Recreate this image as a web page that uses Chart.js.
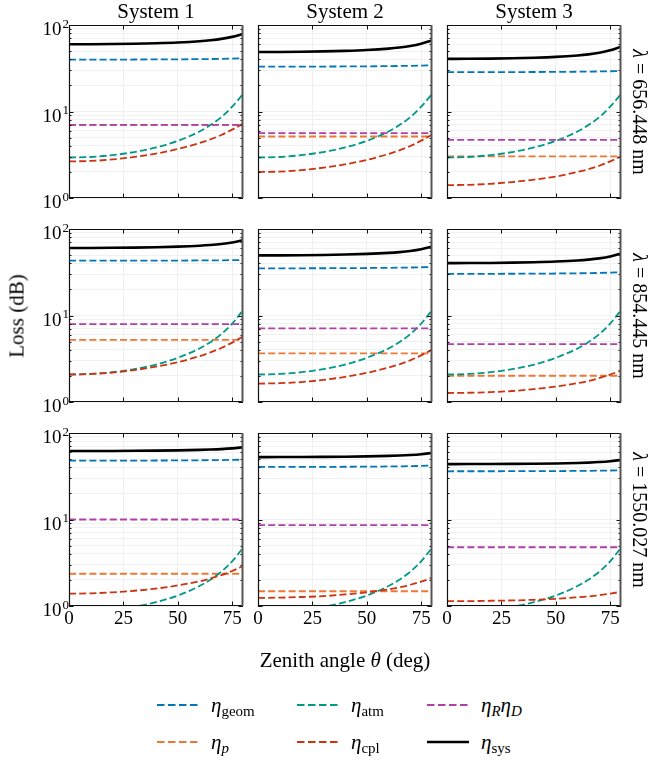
<!DOCTYPE html>
<html><head><meta charset="utf-8">
<script src="https://cdn.jsdelivr.net/npm/chart.js@4.4.0/dist/chart.umd.min.js"></script>
<style>
html,body{margin:0;padding:0;background:#fff;}
#page{position:relative;width:653px;height:762px;overflow:hidden;font-family:"Liberation Serif","Times New Roman",serif;color:#000;}
#page canvas{position:absolute;}
.t{position:absolute;white-space:nowrap;line-height:1;}
.leg{position:absolute;font-size:21px;white-space:nowrap;line-height:1;}
.leg sub{font-size:15px;vertical-align:-4px;}
</style></head><body><div id="page"></div>
<script>
// ---------------- data ----------------
const zenith = [0, 10, 20, 30, 40, 50, 60, 65, 70, 75, 80];
const systemNames = ['System 1', 'System 2', 'System 3'];
const wavelengths = ['656.448', '854.445', '1550.027'];
const yTickValues = [1,2,3,4,5,6,7,8,9,10,20,30,40,50,60,70,80,90,100];
const yLabelValues = [1, 10, 100];
const yLabelSup = ['0', '1', '2'];
const xTickValues = [0, 25, 50, 75];

// lambda = 656.448 nm  (index = system)
const atm_656  = [2.94, 2.98, 3.13, 3.40, 3.84, 4.57, 5.88, 6.96, 8.60, 11.36, 15.9];
const geom_656 = [
  [39.8, 39.81, 39.84, 39.90, 39.99, 40.11, 40.31, 40.44, 40.62, 40.87, 41.2],
  [33.0, 33.01, 33.04, 33.09, 33.17, 33.29, 33.47, 33.60, 33.76, 34.0, 34.3],
  [28.5, 28.51, 28.53, 28.56, 28.62, 28.70, 28.83, 28.91, 29.03, 29.19, 29.4]];
const cpl_656 = [
  [2.65, 2.68, 2.79, 2.98, 3.26, 3.68, 4.32, 4.76, 5.35, 6.17, 7.25],
  [2.0, 2.02, 2.10, 2.24, 2.45, 2.76, 3.23, 3.56, 3.99, 4.60, 5.4],
  [1.41, 1.42, 1.46, 1.53, 1.63, 1.77, 2.00, 2.15, 2.36, 2.65, 3.03]];
const sys_656 = [
  [59.9, 59.97, 60.26, 60.78, 61.59, 62.86, 65.01, 66.66, 69.07, 72.9, 78.85],
  [48.7, 48.77, 49.03, 49.49, 50.22, 51.38, 53.34, 54.88, 57.11, 60.72, 66.36],
  [40.59, 40.65, 40.86, 41.23, 41.83, 42.78, 44.45, 45.76, 47.73, 50.94, 56.07]];
const p_656  = [7.0, 5.14, 3.03];
const rd_656 = [7.0, 5.62, 4.71];

// lambda = 854.445 nm
const atm_854  = [2.08, 2.11, 2.21, 2.40, 2.71, 3.24, 4.16, 4.92, 6.08, 8.04, 11.5];
const geom_854 = [
  [43.0, 43.01, 43.02, 43.06, 43.11, 43.18, 43.29, 43.37, 43.47, 43.61, 43.8],
  [35.1, 35.11, 35.14, 35.19, 35.27, 35.39, 35.57, 35.70, 35.86, 36.10, 36.4],
  [30.3, 30.31, 30.34, 30.39, 30.47, 30.59, 30.77, 30.90, 31.06, 31.30, 31.6]];
const cpl_854 = [
  [2.08, 2.11, 2.19, 2.34, 2.56, 2.89, 3.39, 3.75, 4.21, 4.86, 5.71],
  [1.63, 1.65, 1.70, 1.80, 1.95, 2.17, 2.50, 2.73, 3.03, 3.46, 4.02],
  [1.27, 1.28, 1.30, 1.34, 1.41, 1.51, 1.65, 1.75, 1.89, 2.07, 2.32]];
const sys_854 = [
  [60.34, 60.41, 60.60, 60.98, 61.56, 62.49, 64.02, 65.22, 66.94, 69.69, 74.19],
  [49.53, 49.59, 49.77, 50.11, 50.65, 51.52, 52.95, 54.07, 55.69, 58.32, 62.64],
  [40.33, 40.38, 40.53, 40.81, 41.27, 42.02, 43.26, 44.25, 45.71, 48.09, 52.10]];
const p_854  = [5.24, 3.64, 2.01];
const rd_854 = [7.94, 7.08, 4.67];

// lambda = 1550.027 nm
const atm_1550  = [0.85, 0.86, 0.90, 0.98, 1.11, 1.32, 1.70, 2.01, 2.49, 3.28, 4.7];
const geom_1550 = [
  [47.9, 47.91, 47.94, 47.99, 48.07, 48.19, 48.37, 48.50, 48.66, 48.90, 49.2],
  [40.5, 40.51, 40.55, 40.61, 40.70, 40.84, 41.04, 41.19, 41.38, 41.65, 42.0],
  [36.1, 36.11, 36.13, 36.17, 36.23, 36.32, 36.46, 36.56, 36.69, 36.87, 37.1]];
const cpl_1550 = [
  [1.39, 1.40, 1.44, 1.50, 1.59, 1.73, 1.93, 2.08, 2.27, 2.54, 2.89],
  [1.24, 1.25, 1.27, 1.30, 1.36, 1.44, 1.56, 1.64, 1.76, 1.91, 2.12],
  [1.14, 1.14, 1.15, 1.16, 1.18, 1.21, 1.26, 1.29, 1.33, 1.39, 1.46]];
const sys_1550 = [
  [61.9, 61.93, 62.04, 62.23, 62.53, 63.0, 63.76, 64.35, 65.18, 66.48, 68.55],
  [52.66, 52.69, 52.79, 52.96, 53.24, 53.67, 54.37, 54.91, 55.70, 56.91, 58.89],
  [43.72, 43.74, 43.81, 43.94, 44.15, 44.48, 45.05, 45.49, 46.14, 47.17, 48.89]];
const p_1550  = [2.36, 1.48, 0.85];
const rd_1550 = [10.0, 8.59, 4.78];

// ---------------- styling / layout ----------------
const C = {geom:'#0077BB', p:'#EE7733', atm:'#009988', cpl:'#CC3311', rd:'#B040A8', sys:'#000000'};
const DASH = [7, 3.2];
const colLeft = [69, 258, 447], rowTop = [25, 229, 433];
const PW = 174, PH = 173;
const PAD = {left:50, top:12, right:12, bottom:30};
const FONT = '"Liberation Serif","Times New Roman",serif';

const rows = [
  {atm:atm_656, geom:geom_656, cpl:cpl_656, sys:sys_656, p:p_656, rd:rd_656},
  {atm:atm_854, geom:geom_854, cpl:cpl_854, sys:sys_854, p:p_854, rd:rd_854},
  {atm:atm_1550, geom:geom_1550, cpl:cpl_1550, sys:sys_1550, p:p_1550, rd:rd_1550}];

const page = document.getElementById('page');

const framePlugin = {
  id: 'frame',
  afterDraw(chart, args, opts) {
    const {ctx, chartArea: a, scales: {x, y}} = chart;
    ctx.save();
    ctx.strokeStyle = '#111';
    ctx.lineWidth = 1;
    ctx.beginPath();
    for (const v of yTickValues) {
      const py = Math.round(y.getPixelForValue(v)) + 0.5;
      const major = yLabelValues.includes(v);
      const len = major ? 4.5 : 2.5;
      ctx.moveTo(a.left, py); ctx.lineTo(a.left + len, py);
      ctx.moveTo(a.right, py); ctx.lineTo(a.right - len, py);
    }
    for (const v of xTickValues) {
      const px = Math.round(x.getPixelForValue(v)) + 0.5;
      ctx.moveTo(px, a.bottom); ctx.lineTo(px, a.bottom - 4.5);
      ctx.moveTo(px, a.top); ctx.lineTo(px, a.top + 4.5);
    }
    ctx.stroke();
    // spines
    ctx.lineWidth = 1.2;
    ctx.strokeStyle = '#111';
    ctx.beginPath();
    ctx.moveTo(a.right, a.top + 0.5); ctx.lineTo(a.left + 0.5, a.top + 0.5);
    ctx.lineTo(a.left + 0.5, a.bottom - 0.5); ctx.lineTo(a.right, a.bottom - 0.5);
    ctx.stroke();
    ctx.lineWidth = 2;
    ctx.strokeStyle = '#555';
    ctx.beginPath();
    ctx.moveTo(a.right - 0.5, a.top); ctx.lineTo(a.right - 0.5, a.bottom);
    ctx.stroke();
    ctx.fillStyle = '#000';
    if (opts.showY) {
      yLabelValues.forEach((v, i) => {
        const py = y.getPixelForValue(v);
        ctx.font = '19px ' + FONT;
        ctx.textAlign = 'right';
        ctx.textBaseline = 'alphabetic';
        ctx.fillText('10', a.left - 7.5, py + 10);
        ctx.font = '13px ' + FONT;
        ctx.textAlign = 'left';
        ctx.fillText(yLabelSup[i], a.left - 6.5, py + 2.5);
      });
    }
    if (opts.showX) {
      ctx.font = '19px ' + FONT;
      ctx.textAlign = 'center';
      ctx.textBaseline = 'alphabetic';
      for (const v of xTickValues) {
        ctx.fillText(String(v), x.getPixelForValue(v), a.bottom + 17.5);
      }
    }
    ctx.restore();
  }
};

function pts(arr) { return zenith.map((z, i) => ({x: z, y: arr[i]})); }
function flat(v) { return zenith.map(z => ({x: z, y: v})); }

for (let r = 0; r < 3; r++) {
  for (let s = 0; s < 3; s++) {
    const d = rows[r];
    const cv = document.createElement('canvas');
    const W = PW + PAD.left + PAD.right, H = PH + PAD.top + PAD.bottom;
    cv.width = W; cv.height = H;
    cv.style.width = W + 'px'; cv.style.height = H + 'px';
    cv.style.left = (colLeft[s] - PAD.left) + 'px';
    cv.style.top = (rowTop[r] - PAD.top) + 'px';
    page.appendChild(cv);
    const base = {fill:false, pointRadius:0, cubicInterpolationMode:'monotone', borderWidth:1.8, borderDash:DASH};
    new Chart(cv.getContext('2d'), {
      type: 'line',
      data: {datasets: [
        {...base, label:'sys', data: pts(d.sys[s]), borderColor:C.sys, borderWidth:2.6, borderDash:[]},
        {...base, label:'RD', data: flat(d.rd[s]), borderColor:C.rd},
        {...base, label:'geom', data: pts(d.geom[s]), borderColor:C.geom},
        {...base, label:'cpl', data: pts(d.cpl[s]), borderColor:C.cpl},
        {...base, label:'atm', data: pts(d.atm), borderColor:C.atm},
        {...base, label:'p', data: flat(d.p[s]), borderColor:C.p}
      ]},
      options: {
        responsive:false, animation:false, devicePixelRatio:1,
        layout: {padding: PAD},
        plugins: {legend:{display:false}, tooltip:{enabled:false}, frame:{showY: s === 0, showX: r === 2}},
        scales: {
          x: {type:'linear', min:0, max:80,
              afterBuildTicks: sc => { sc.ticks = xTickValues.map(v => ({value:v})); },
              ticks:{display:false}, border:{display:false},
              grid:{color:'#efefef', lineWidth:1, drawTicks:false}},
          y: {type:'logarithmic', min:1, max:100,
              afterBuildTicks: sc => { sc.ticks = yTickValues.map(v => ({value:v})); },
              ticks:{display:false}, border:{display:false},
              grid:{color:'#f1f1f1', lineWidth:1, drawTicks:false}}
        }
      },
      plugins: [framePlugin]
    });
  }
}

// ---------------- text ----------------
function addText(html, x, y, size, extra) {
  const el = document.createElement('div');
  el.className = 't';
  el.innerHTML = html;
  el.style.fontSize = size + 'px';
  el.style.left = x + 'px';
  el.style.top = y + 'px';
  if (extra) Object.assign(el.style, extra);
  page.appendChild(el);
  return el;
}
systemNames.forEach((n, i) => {
  addText(n, colLeft[i] + PW / 2, 1, 21, {transform:'translateX(-50%)'});
});
wavelengths.forEach((w, i) => {
  addText('<i>λ</i> = ' + w + ' nm', 640, rowTop[i] + PH / 2, 20,
    {transform:'translate(-50%,-50%) rotate(90deg)'});
});
addText('Loss (dB)', 17, 316, 21, {transform:'translate(-50%,-50%) rotate(-90deg)'});
addText('Zenith angle <i>θ</i> (deg)', 345, 650, 21, {transform:'translateX(-50%)'});

// legend
const legendItems = [
  {html:'<i>η</i><sub>geom</sub>', color:C.geom, dash:true, x:157, y:705},
  {html:'<i>η</i><sub><i>p</i></sub>', color:C.p, dash:true, x:157, y:742},
  {html:'<i>η</i><sub>atm</sub>', color:C.atm, dash:true, x:297, y:705},
  {html:'<i>η</i><sub>cpl</sub>', color:C.cpl, dash:true, x:297, y:742},
  {html:'<i>η<sub>R</sub>η<sub>D</sub></i>', color:C.rd, dash:true, x:427, y:705},
  {html:'<i>η</i><sub>sys</sub>', color:C.sys, dash:false, x:427, y:742}];
legendItems.forEach(it => {
  const svgNS = 'http://www.w3.org/2000/svg';
  const svg = document.createElementNS(svgNS, 'svg');
  svg.setAttribute('width', '44'); svg.setAttribute('height', '6');
  svg.style.position = 'absolute';
  svg.style.left = it.x + 'px'; svg.style.top = (it.y - 3) + 'px';
  const ln = document.createElementNS(svgNS, 'line');
  ln.setAttribute('x1', '0'); ln.setAttribute('x2', '42');
  ln.setAttribute('y1', '3'); ln.setAttribute('y2', '3');
  ln.setAttribute('stroke', it.color);
  ln.setAttribute('stroke-width', it.dash ? '2' : '2.6');
  if (it.dash) ln.setAttribute('stroke-dasharray', '7.5 3.5');
  svg.appendChild(ln);
  page.appendChild(svg);
  const el = document.createElement('div');
  el.className = 'leg';
  el.innerHTML = it.html;
  el.style.left = (it.x + 54) + 'px';
  el.style.top = (it.y - 10) + 'px';
  page.appendChild(el);
});
</script></body></html>
